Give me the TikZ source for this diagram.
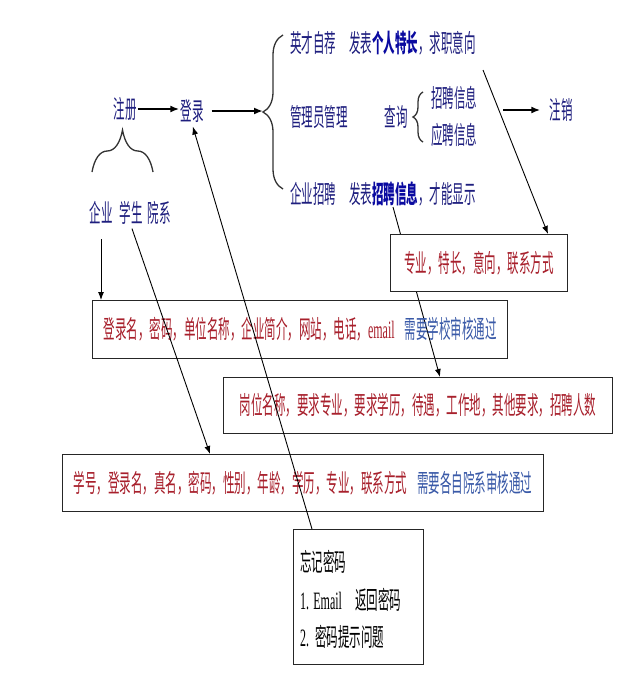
\documentclass[tikz,border=0pt]{standalone}
\usepackage{fontspec}
\setmainfont{Noto Sans CJK SC}[FakeStretch=0.46]
\newfontfamily\latf{Liberation Serif}[FakeStretch=0.48]
\usetikzlibrary{arrows.meta,decorations.pathreplacing,calc}
\pgfdeclarelayer{bg}
\pgfsetlayers{bg,main}
\definecolor{navy}{HTML}{1E1E7E}
\definecolor{bblue}{HTML}{0A0AA0}
\definecolor{dred}{HTML}{A8202C}
\definecolor{sblue}{HTML}{3A5AA8}
\tikzset{
  lab/.style={font=\fontsize{25pt}{29pt}\selectfont, text=navy, inner sep=1pt},
  infobox/.style={draw=black!85, line width=1.3pt, font=\fontsize{25pt}{29pt}\selectfont, inner sep=0pt, anchor=north west},
  thickarr/.style={line width=1.8pt, -{Latex[length=9pt,width=7pt]}},
  thinarr/.style={line width=0.9pt, -{Latex[length=8pt,width=6pt]}},
  bracestyle/.style={draw=black!80, line width=1.3pt, decorate, decoration={brace, amplitude=#1}},
}
\begin{document}
\begin{tikzpicture}[x=1pt,y=-1pt]
\useasboundingbox (0,0) rectangle (624,688);
\begin{pgfonlayer}{bg}
\fill[white] (0,0) rectangle (624,688);
\end{pgfonlayer}

% labels
\node[lab] (zc) at (125,109) {注册};
\node[lab] (dl) at (192,111) {登录};
\node[lab] (zx) at (561,110) {注销};
\node[lab, anchor=west] (ycz) at (289,43) {英才自荐};
\node[lab, anchor=west] (fb1) at (348,43) {发表{\bfseries\color{bblue}个人特长}，求职意向};
\node[lab, anchor=west] (gly) at (289,117) {管理员管理};
\node[lab] (cx) at (396,117) {查询};
\node[lab, anchor=west] (zpx) at (430,98) {招聘信息};
\node[lab, anchor=west] (ypx) at (430,135) {应聘信息};
\node[lab, anchor=west] (qyzp) at (289,194) {企业招聘};
\node[lab, anchor=west] (fb2) at (348,194) {发表{\bfseries\color{bblue}招聘信息}，才能显示};
\node[lab] (qy) at (101,213) {企业};
\node[lab] (xs) at (131,213) {学生};
\node[lab] (yx) at (159,213) {院系};

% braces
\coordinate (bt) at (263,111);
\draw[bracestyle=20pt] (283,189) -- (283,35);
\draw[bracestyle=10pt] (423,142) -- (423,92);
\draw[bracestyle=42pt] (92,172) -- (153,172);

% top arrows
\draw[thickarr] (zc.east) -- (zc.east -| dl.west);
\draw[thickarr, shorten <=7pt] (dl.east) -- (dl.east -| bt);
\coordinate (zxs) at (503,110);
\draw[thickarr, shorten >=8pt] (zxs) -- (zx.west);

% boxes
\node[infobox, fill=white, minimum width=177pt, minimum height=57pt] (b0) at (390,234) {\color{dred}专业，特长，意向，联系方式};
\node[infobox, minimum width=415pt, minimum height=58pt] (b1) at (92,300) {\color{dred}登录名，密码，单位名称，企业简介，网站，电话，{\latf email}\hspace{10pt}\color{sblue}需要学校审核通过};
\node[infobox, minimum width=389pt, minimum height=56pt] (b2) at (223,377) {\color{dred}岗位名称，要求专业，要求学历，待遇，工作地，其他要求，招聘人数};
\node[infobox, minimum width=481pt, minimum height=57pt] (b3) at (62,454) {\color{dred}学号，登录名，真名，密码，性别，年龄，学历，专业，联系方式\hspace{10pt}\color{sblue}需要各自院系审核通过};
\node[infobox, minimum width=130pt, minimum height=135pt] (b4) at (293,529) {};
\node[lab, text=black, anchor=west] (f1) at (299,562) {忘记密码};
\node[lab, text=black, anchor=west] (f2) at (299,600) {{\latf 1.\,Email}\hspace{13pt}返回密码};
\node[lab, text=black, anchor=west] (f3) at (299,637) {{\latf 2.}\hspace{6pt}密码提示问题};

% connectors
\draw[thinarr, shorten <=14pt] (qy.south) -- (qy.south |- b1.north);
\coordinate (b3t) at ([xshift=148pt]b3.north west);
\draw[thinarr, shorten <=3pt] (xs.south) -- (b3t);
\coordinate (b4t) at ([xshift=19pt]b4.north west);
\draw[thinarr, shorten >=3pt] (b4t) -- (dl.south);
\coordinate (s1) at (483,70);
\coordinate (b0t) at ([xshift=158pt]b0.north west);
\draw[thinarr] (s1) -- (b0t);
\coordinate (s2) at (393,207);
\coordinate (b2t) at ([xshift=217pt]b2.north west);
\begin{pgfonlayer}{bg}
\draw[thinarr] (s2) -- (b2t);
\end{pgfonlayer}
\end{tikzpicture}
\end{document}
